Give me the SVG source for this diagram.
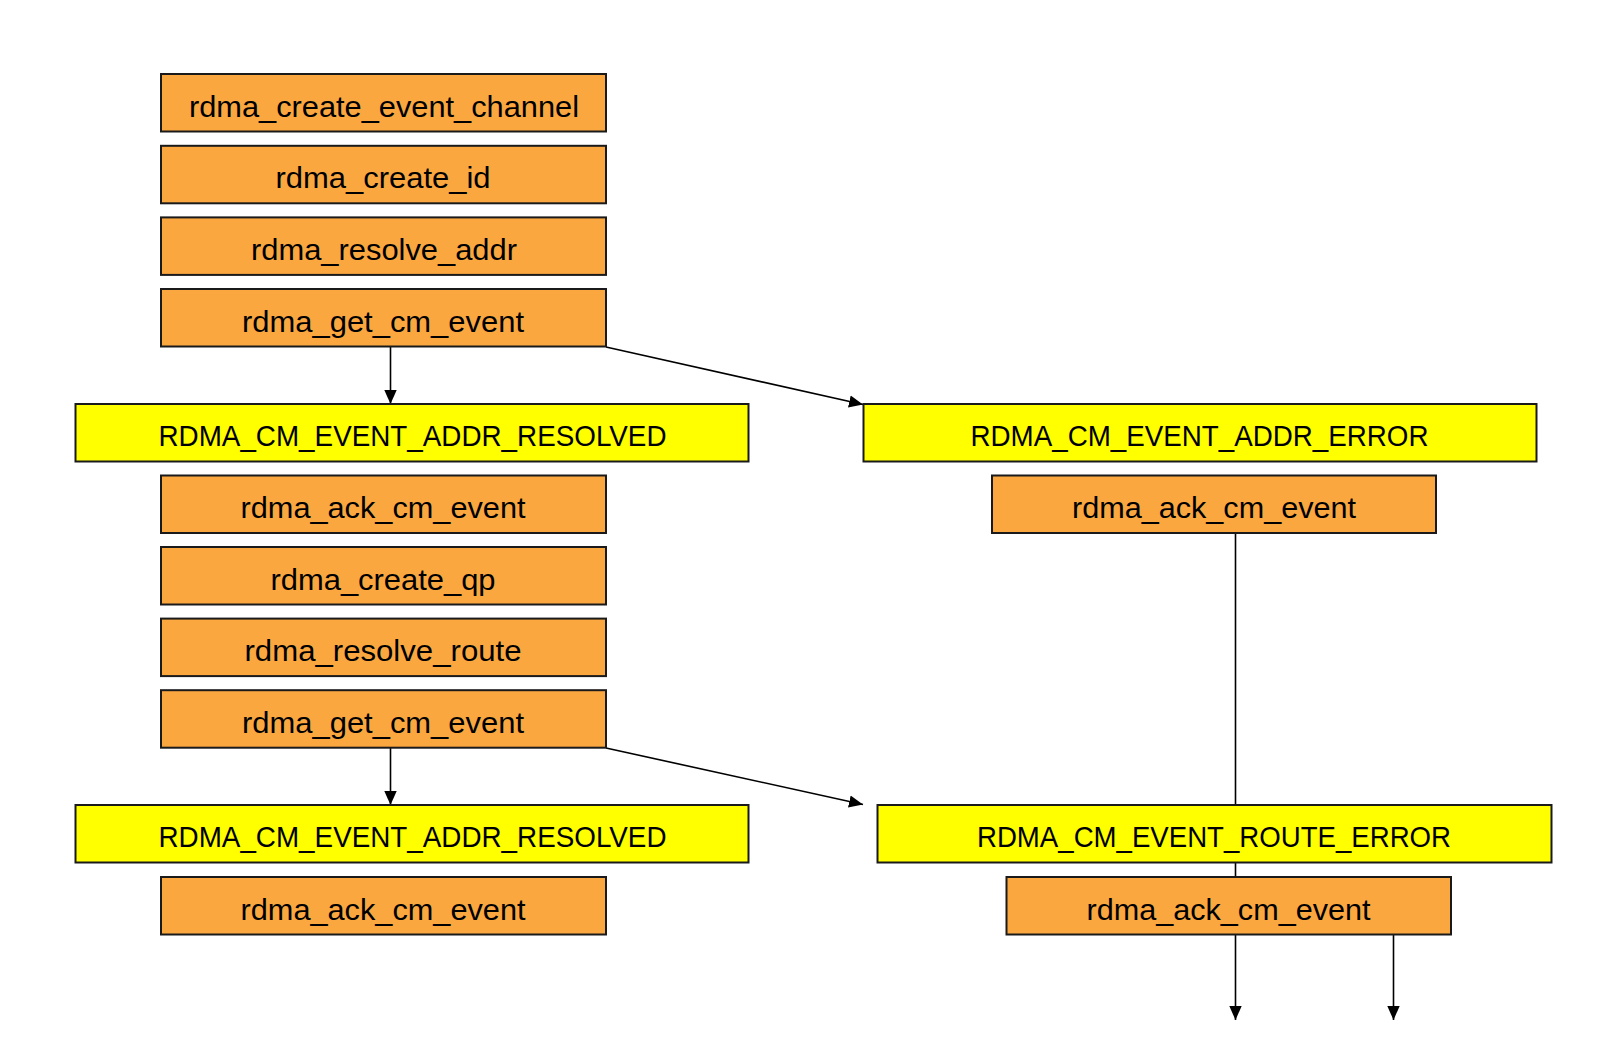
<svg xmlns="http://www.w3.org/2000/svg" width="1599" height="1046" viewBox="0 0 1599 1046">
<style>
.o{fill:#FAA740;stroke:#1a1a1a;stroke-width:2}
.y{fill:#FFFF00;stroke:#1a1a1a;stroke-width:2}
text{font-family:"Liberation Sans",Arial,sans-serif;font-size:30px;fill:#000;text-anchor:middle}
.c{stroke:#000;stroke-width:1.6;fill:none;marker-end:url(#ah)}
</style>
<defs>
<marker id="ah" markerUnits="userSpaceOnUse" markerWidth="14" markerHeight="14" viewBox="0 0 14 14" refX="14" refY="7" orient="auto">
<path d="M0,0.8 L14,7 L0,13.2 Z" fill="#000"/>
</marker>
</defs>
<rect width="1599" height="1046" fill="#fff"/>
<g id="connectors">
<line class="c" x1="390.5" y1="347" x2="390.5" y2="404"/>
<line class="c" x1="606" y1="347" x2="863" y2="404.5"/>
<line class="c" x1="390.5" y1="748" x2="390.5" y2="805"/>
<line class="c" x1="606" y1="748" x2="863" y2="804.5"/>
<line class="c" x1="1235.5" y1="533" x2="1235.5" y2="1020"/>
<line class="c" x1="1393.5" y1="934" x2="1393.5" y2="1020"/>
</g>
<g id="n1"><rect class="o" x="161" y="74" width="445" height="57.5"/><text x="384" y="116.5" textLength="390" lengthAdjust="spacingAndGlyphs">rdma_create_event_channel</text></g>
<g id="n2"><rect class="o" x="161" y="145.8" width="445" height="57.5"/><text x="383" y="188.3" textLength="215" lengthAdjust="spacingAndGlyphs">rdma_create_id</text></g>
<g id="n3"><rect class="o" x="161" y="217.4" width="445" height="57.5"/><text x="384" y="259.9" textLength="266" lengthAdjust="spacingAndGlyphs">rdma_resolve_addr</text></g>
<g id="n4"><rect class="o" x="161" y="289" width="445" height="57.5"/><text x="383" y="331.5" textLength="282" lengthAdjust="spacingAndGlyphs">rdma_get_cm_event</text></g>
<g id="n5"><rect class="y" x="75.5" y="404" width="673" height="57.5"/><text x="412.5" y="446" textLength="508" lengthAdjust="spacingAndGlyphs">RDMA_CM_EVENT_ADDR_RESOLVED</text></g>
<g id="n6"><rect class="o" x="161" y="475.5" width="445" height="57.5"/><text x="383" y="518" textLength="285" lengthAdjust="spacingAndGlyphs">rdma_ack_cm_event</text></g>
<g id="n7"><rect class="o" x="161" y="547" width="445" height="57.5"/><text x="383" y="589.5" textLength="225" lengthAdjust="spacingAndGlyphs">rdma_create_qp</text></g>
<g id="n8"><rect class="o" x="161" y="618.6" width="445" height="57.5"/><text x="383" y="661.1" textLength="277" lengthAdjust="spacingAndGlyphs">rdma_resolve_route</text></g>
<g id="n9"><rect class="o" x="161" y="690.2" width="445" height="57.5"/><text x="383" y="732.7" textLength="282" lengthAdjust="spacingAndGlyphs">rdma_get_cm_event</text></g>
<g id="n10"><rect class="y" x="75.5" y="805" width="673" height="57.5"/><text x="412.5" y="847" textLength="508" lengthAdjust="spacingAndGlyphs">RDMA_CM_EVENT_ADDR_RESOLVED</text></g>
<g id="n11"><rect class="o" x="161" y="877" width="445" height="57.5"/><text x="383" y="919.5" textLength="285" lengthAdjust="spacingAndGlyphs">rdma_ack_cm_event</text></g>
<g id="n12"><rect class="y" x="863.5" y="404" width="673" height="57.5"/><text x="1199.5" y="446" textLength="458" lengthAdjust="spacingAndGlyphs">RDMA_CM_EVENT_ADDR_ERROR</text></g>
<g id="n13"><rect class="o" x="992" y="475.5" width="444" height="57.5"/><text x="1214" y="518" textLength="284" lengthAdjust="spacingAndGlyphs">rdma_ack_cm_event</text></g>
<g id="n14"><rect class="y" x="877.5" y="805" width="674" height="57.5"/><text x="1214" y="847" textLength="474" lengthAdjust="spacingAndGlyphs">RDMA_CM_EVENT_ROUTE_ERROR</text></g>
<g id="n15"><rect class="o" x="1006.5" y="877" width="444.5" height="57.5"/><text x="1228.5" y="919.5" textLength="284" lengthAdjust="spacingAndGlyphs">rdma_ack_cm_event</text></g>
</svg>
